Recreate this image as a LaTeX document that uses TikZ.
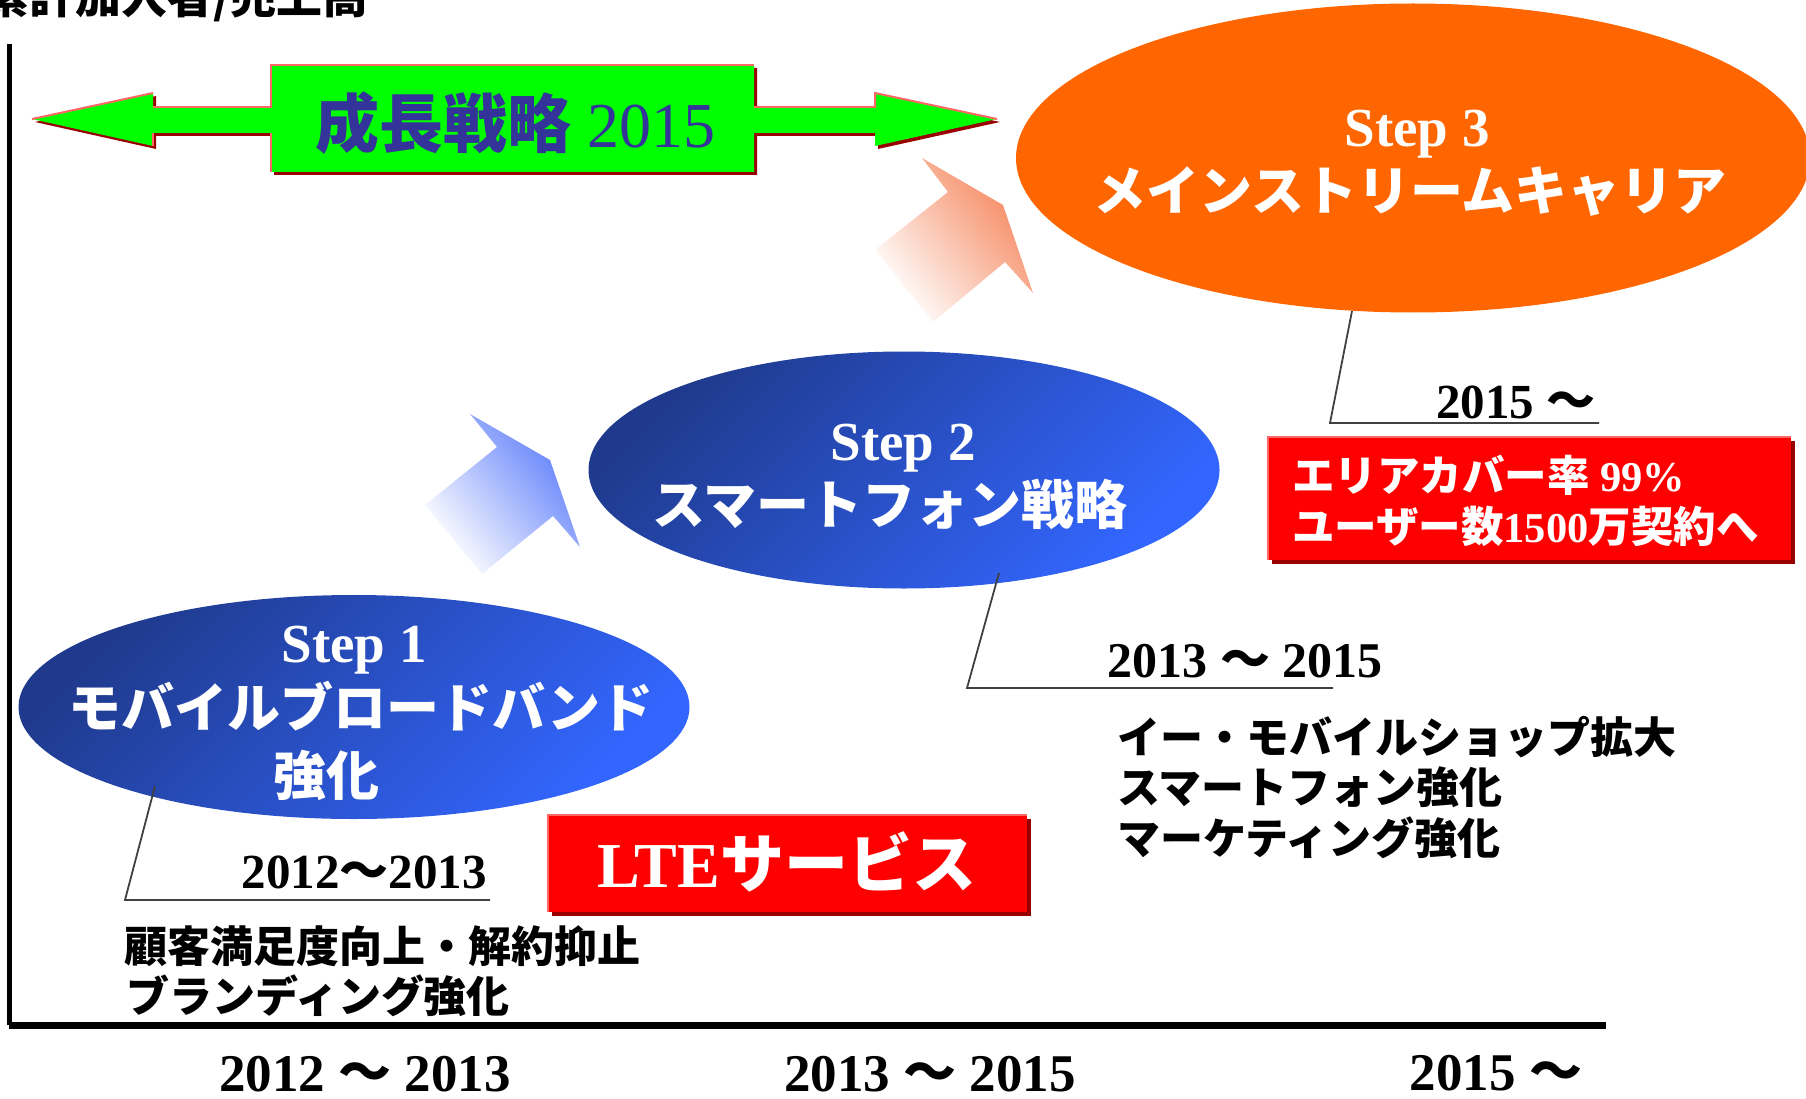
\documentclass[tikz,border=0pt]{standalone}
\usepackage{fontspec}
\setmainfont{Liberation Serif}
\newfontfamily\jp{Noto Sans CJK JP}
\usetikzlibrary{shapes.geometric,shadows}
\definecolor{grn}{HTML}{00FF00}
\definecolor{edgepink}{HTML}{FF6666}
\definecolor{shadowred}{HTML}{990000}
\definecolor{txtblue}{HTML}{333399}
\definecolor{orng}{HTML}{FF6600}
\definecolor{bluedark}{HTML}{1F3A8C}
\definecolor{bluelight}{HTML}{3366FF}
\definecolor{arrblue}{HTML}{5B7CFA}
\definecolor{arrorange}{HTML}{F5845A}
\definecolor{redbox}{HTML}{FF0000}
\newcommand\fs[1]{\fontsize{#1}{#1}\selectfont}
\begin{document}
\begin{tikzpicture}[x=1pt,y=-1pt,
  every node/.style={inner sep=0pt, outer sep=0pt},
  pinkedge/.style={draw=edgepink, line width=2pt},
  callout/.style={draw=black!75, line width=1.8pt},
  blueell/.style={ellipse, top color=bluedark, bottom color=bluelight, shading angle=45},
  rbox/.style={rectangle, fill=redbox, anchor=north west},
  steptxt/.style={anchor=base, text=white, font=\fs{55}\bfseries},
  jwhite/.style={anchor=base, text=white, font=\fs{53}\jp\bfseries},
  yeartxt/.style={anchor=base, font=\fs{50}\bfseries},
  itemtxt/.style={anchor=base west, font=\fs{43}\jp\bfseries},
  axislbl/.style={anchor=base, font=\fs{53}\bfseries}]
\useasboundingbox (0,0) rectangle (1806,1099);
\clip (0,0) rectangle (1806,1099);

% axes
\coordinate (ytop) at (9,44);
\coordinate (orig) at (9,1025);
\coordinate (xend) at (1606,1025);
\draw[line width=5pt] (ytop) -- (orig);
\draw[line width=7pt] (orig) -- (xend);
\node[anchor=base east, font=\fs{46}\jp\bfseries] (ylabel) at (369,14) {累計加入者/売上高};

% green double arrow
\fill[shadowred] ([shift={(3,3)}]32,119) -- ++(121,-26) -- ++(0,14) -- ++(118,0) -- ++(0,-42) -- ++(483,0) -- ++(0,42) -- ++(121,0) -- ++(0,-14) -- ++(122,26) -- ++(-122,27) -- ++(0,-13) -- ++(-121,0) -- ++(0,39) -- ++(-483,0) -- ++(0,-39) -- ++(-118,0) -- ++(0,13) -- cycle;
\fill[grn] (32,119) -- (153,93) -- (153,107) -- (271,107) -- (271,65) -- (754,65) -- (754,107) -- (875,107) -- (875,93) -- (997,119) -- (875,146) -- (875,133) -- (754,133) -- (754,172) -- (271,172) -- (271,133) -- (153,133) -- (153,146) -- cycle;
\draw[pinkedge] (32,119) -- (153,93);
\draw[pinkedge] (153,146) -- (153,133);
\draw[pinkedge] (153,107) -- (271,107) -- (271,65) -- (754,65);
\draw[pinkedge] (271,172) -- (271,133);
\draw[pinkedge] (754,107) -- (875,107) -- (875,93) -- (997,119);
\node[anchor=base, text=txtblue, font=\fs{64}] (strat) at (515,148) {{\jp\bfseries 成長戦略} 2015};

% faded arrows
\shade[top color=arrorange, bottom color=white, shading angle=-51]
  (875,250) -- (948,192) -- (922,158) -- (1003,205) -- (1033,293) -- (1005,262) -- (933,322) -- cycle;
\shade[top color=arrblue, bottom color=white, shading angle=-51]
  (425,505) -- (497,447) -- (470,414) -- (550,460) -- (580,547) -- (553,516) -- (482,574) -- cycle;

% ellipses
\node[blueell, minimum width=671pt, minimum height=224pt] (s1) at (354,707) {};
\node[blueell, minimum width=631pt, minimum height=237pt] (s2) at (904,470) {};
\node[ellipse, fill=orng, minimum width=794pt, minimum height=309pt] (s3) at (1413,158) {};

\node[steptxt] (s3a) at (1417,147) {Step 3};
\node[jwhite] (s3b) at (1410,211) {メインストリームキャリア};
\node[steptxt] (s2a) at (903,460) {Step 2};
\node[jwhite] (s2b) at (890,524) {スマートフォン戦略};
\node[steptxt] (s1a) at (354,662) {Step 1};
\node[jwhite] (s1b) at (361,727) {モバイルブロードバンド};
\node[jwhite] (s1c) at (326,795) {強化};

% callouts
\coordinate (c1a) at (155,786);
\coordinate (c1b) at (125,900);
\coordinate (c1c) at (490,900);
\draw[callout] (c1a) -- (c1b) -- (c1c);
\coordinate (c2a) at (999,573);
\coordinate (c2b) at (967,688);
\coordinate (c2c) at (1333,688);
\draw[callout] (c2a) -- (c2b) -- (c2c);
\coordinate (c3a) at (1352,311);
\coordinate (c3b) at (1330,423);
\coordinate (c3c) at (1599,423);
\draw[callout] (c3a) -- (c3b) -- (c3c);

\node[yeartxt, font=\fs{49}\bfseries] (y1) at (364,888) {2012{\jp 〜}2013};
\node[yeartxt] (y2) at (1245,677) {2013 {\jp 〜} 2015};
\node[yeartxt, font=\fs{49}\bfseries] (y3) at (1516,418) {2015 {\jp 〜}};

\node[itemtxt] (i1a) at (124,962) {顧客満足度向上・解約抑止};
\node[itemtxt] (i1b) at (126,1012) {ブランディング強化};
\node[itemtxt] (i2a) at (1117,753) {イー・モバイルショップ拡大};
\node[itemtxt] (i2b) at (1117,803) {スマートフォン強化};
\node[itemtxt] (i2c) at (1117,854) {マーケティング強化};

% red boxes
\fill[shadowred] (552,819) rectangle (1031,916);
\node[rbox, minimum width=479pt, minimum height=97pt] (lte) at (548,815) {};
\draw[pinkedge] (lte.south west) -- (lte.north west) -- (lte.north east);
\node[anchor=base, text=white, font=\fs{64}\bfseries] (ltet) at (787,887) {LTE{\jp サービス}};

\fill[shadowred] (1272,441) rectangle (1795,564);
\node[rbox, minimum width=523pt, minimum height=123pt] (goal) at (1268,437) {};
\draw[pinkedge] (goal.south west) -- (goal.north west) -- (goal.north east);
\node[anchor=base west, text=white, font=\fs{42.5}\bfseries] (g1) at (1292,491) {{\jp エリアカバー率} 99\%};
\node[anchor=base west, text=white, font=\fs{42.5}\bfseries] (g2) at (1292,542) {{\jp ユーザー数}1500{\jp 万契約へ}};

% bottom axis labels
\node[axislbl] (x1) at (365,1091) {2012 {\jp 〜} 2013};
\node[axislbl] (x2) at (930,1091) {2013 {\jp 〜} 2015};
\node[axislbl] (x3) at (1496,1090) {2015 {\jp 〜}};
\end{tikzpicture}
\end{document}
